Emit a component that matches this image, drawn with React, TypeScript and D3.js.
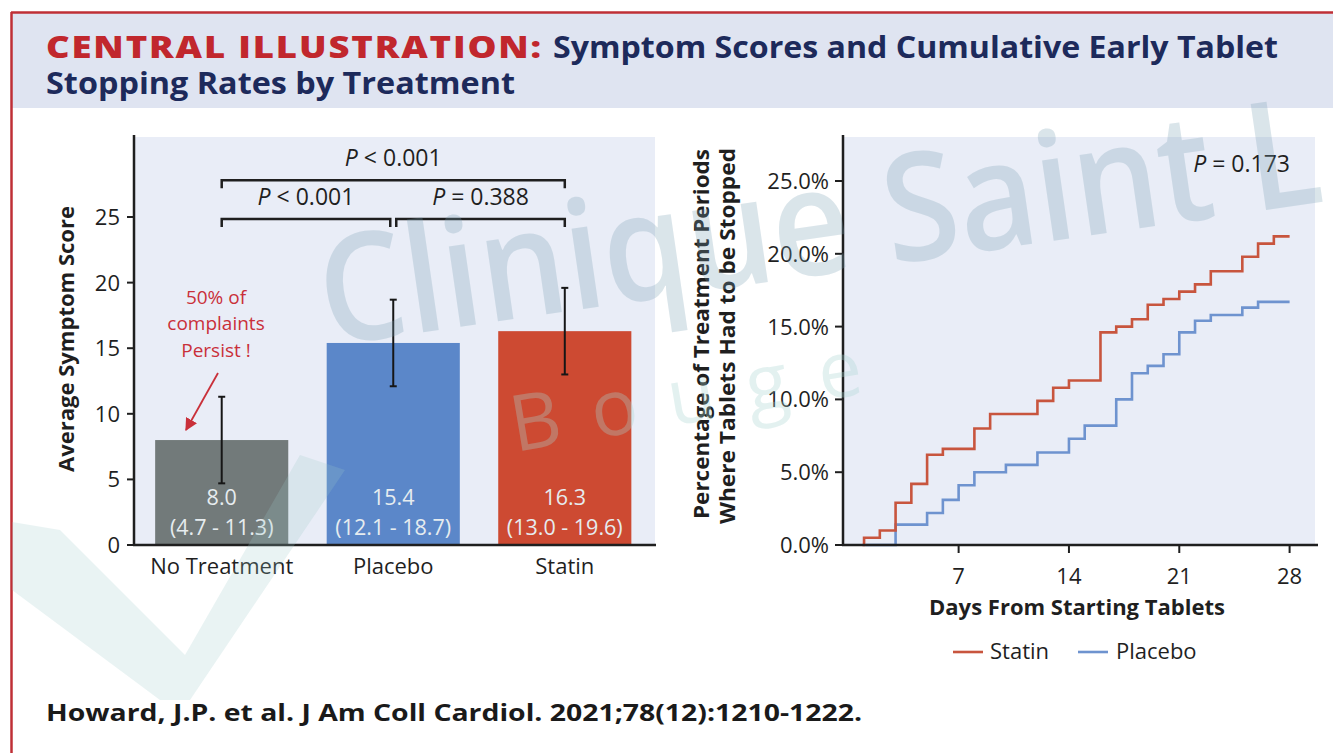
import React from "react";
import * as d3 from "d3";

// ---------- data ----------
const categories = ["No Treatment", "Placebo", "Statin"];
const means = [8.0, 15.4, 16.3];
const ciLow = [4.7, 12.1, 13.0];
const ciHigh = [11.3, 18.7, 19.6];
const barColors = ["#727a7a", "#5b87c9", "#cd4a32"];
const symTicks = [0, 5, 10, 15, 20, 25];

const comparisons = [
  { a: 0, b: 2, level: 27.8, label: "< 0.001" },
  { a: 0, b: 1, level: 24.85, label: "< 0.001" },
  { a: 1, b: 2, level: 24.85, label: "= 0.388" },
];

const statinDays = [0.9, 1, 2, 3, 4, 5, 6, 8, 9, 12, 13, 14, 16, 17, 18, 19, 20, 21, 22, 23, 25, 26, 27, 28];
const statinPct = [0, 0.5, 1.0, 2.9, 4.2, 6.2, 6.6, 8.0, 9.0, 9.9, 10.8, 11.3, 14.6, 15.0, 15.5, 16.5, 16.9, 17.4, 17.9, 18.8, 19.8, 20.7, 21.2, 21.2];
const placeboDays = [1.1, 3, 5, 6, 7, 8, 10, 12, 14, 15, 17, 18, 19, 20, 21, 22, 23, 25, 26, 28];
const placeboPct = [0, 1.4, 2.2, 3.1, 4.1, 5.0, 5.5, 6.35, 7.3, 8.2, 10.0, 11.8, 12.3, 13.1, 14.6, 15.4, 15.8, 16.3, 16.7, 16.7];
const dayTicks = [7, 14, 21, 28];
const pctTicks = [0, 5, 10, 15, 20, 25];

const FONT = "'Open Sans', 'Noto Sans', sans-serif";
const INK = "#1f1f1f";

export default function App() {
  // left chart scales
  const yS = d3.scaleLinear().domain([0, 31.1]).range([545, 137]);
  const xS = d3.scaleBand<string>().domain(categories).range([138, 648.5]).paddingInner(0.224).paddingOuter(0.1);
  const cx = (i: number) => (xS(categories[i]) as number) + xS.bandwidth() / 2;

  // right chart scales
  const xD = d3.scaleLinear().domain([0, 28]).range([848.3, 1289.6]);
  const yP = d3.scaleLinear().domain([0, 25]).range([545, 181]);
  const line = d3
    .line<[number, number]>()
    .x((d) => xD(d[0]))
    .y((d) => yP(d[1]))
    .curve(d3.curveStepAfter);
  const statinPath = line(statinDays.map((d, i) => [d, statinPct[i]]) as [number, number][]) || "";
  const placeboPath = line(placeboDays.map((d, i) => [d, placeboPct[i]]) as [number, number][]) || "";

  return (
    <svg
      width={1333}
      height={753}
      viewBox="0 0 1333 753"
      style={{ position: "absolute", left: 0, top: 0, background: "#ffffff" }}
      fontFamily={FONT}
    >
      <rect x={0} y={0} width={1333} height={753} fill="#ffffff" />
      {/* header band */}
      <rect x={11} y={12} width={1322} height={96} fill="#dfe4f1" />
      <line x1={11} y1={12.5} x2={1333} y2={12.5} stroke="#bf2f36" strokeWidth={2.5} />
      <line x1={11.5} y1={12} x2={11.5} y2={753} stroke="#bf2f36" strokeWidth={2.5} />
      <text fontSize={30} fontWeight={700} fill="#1d2a5b">
        <tspan x={46} y={58} fontWeight={800} fill="#c1272d" letterSpacing={1.5} textLength={497} lengthAdjust="spacingAndGlyphs">
          CENTRAL ILLUSTRATION:
        </tspan>
        <tspan x={553} y={58} textLength={725} lengthAdjust="spacingAndGlyphs">
          Symptom Scores and Cumulative Early Tablet
        </tspan>
        <tspan x={46} y={94} textLength={469} lengthAdjust="spacingAndGlyphs">
          Stopping Rates by Treatment
        </tspan>
      </text>

      {/* ---------- left chart ---------- */}
      <rect x={134} y={137} width={521} height={408} fill="#e9edf7" />
      {categories.map((c, i) => (
        <rect key={c} x={xS(c)} y={yS(means[i])} width={xS.bandwidth()} height={yS(0) - yS(means[i])} fill={barColors[i]} />
      ))}
      {categories.map((c, i) => (
        <g key={"eb" + c} stroke="#161616" strokeWidth={2}>
          <line x1={cx(i)} x2={cx(i)} y1={yS(ciLow[i])} y2={yS(ciHigh[i])} />
          <line x1={cx(i) - 3.5} x2={cx(i) + 3.5} y1={yS(ciLow[i])} y2={yS(ciLow[i])} />
          <line x1={cx(i) - 3.5} x2={cx(i) + 3.5} y1={yS(ciHigh[i])} y2={yS(ciHigh[i])} />
        </g>
      ))}
      {categories.map((c, i) => (
        <text key={"lab" + c} fill="#e6ecef" fontSize={21.5} textAnchor="middle">
          <tspan x={cx(i)} y={505}>{means[i].toFixed(1)}</tspan>
          <tspan x={cx(i)} y={535}>{`(${ciLow[i].toFixed(1)} - ${ciHigh[i].toFixed(1)})`}</tspan>
        </text>
      ))}
      {/* axes */}
      <line x1={134} x2={134} y1={135} y2={546} stroke={INK} strokeWidth={2.5} />
      <line x1={133} x2={656} y1={545} y2={545} stroke={INK} strokeWidth={2.5} />
      {symTicks.map((t) => (
        <g key={"yt" + t}>
          <line x1={127} x2={134} y1={yS(t)} y2={yS(t)} stroke={INK} strokeWidth={2} />
          <text x={120} y={yS(t)} dy="0.36em" textAnchor="end" fontSize={22} fill={INK}>
            {t}
          </text>
        </g>
      ))}
      {categories.map((c, i) => (
        <text key={"xl" + c} x={cx(i)} y={574} textAnchor="middle" fontSize={22} fill={INK}>
          {c}
        </text>
      ))}
      <text transform="translate(74,339) rotate(-90)" textAnchor="middle" fontSize={21} fontWeight={700} fill={INK} textLength={266} lengthAdjust="spacingAndGlyphs">
        Average Symptom Score
      </text>
      {/* brackets */}
      {comparisons.map((cmp, k) => {
        const y = yS(cmp.level);
        const x1 = cx(cmp.a) + (cmp.a === 1 && cmp.level < 26 ? 3 : 0);
        const x2 = cx(cmp.b) - (cmp.b === 1 ? 3 : 0);
        return (
          <g key={"br" + k}>
            <path d={`M${x1},${y + 8}V${y}H${x2}V${y + 8}`} fill="none" stroke={INK} strokeWidth={2.5} />
            <text x={(x1 + x2) / 2} y={y - 14} textAnchor="middle" fontSize={23} fill={INK}>
              <tspan fontStyle="italic">P</tspan>
              {" " + cmp.label}
            </text>
          </g>
        );
      })}
      {/* annotation */}
      <text fill="#c9303a" fontSize={19} textAnchor="middle">
        <tspan x={216} y={304}>50% of</tspan>
        <tspan x={216} y={330}>complaints</tspan>
        <tspan x={216} y={357}>Persist !</tspan>
      </text>
      <defs>
        <marker id="ah" viewBox="0 0 10 10" refX={9} refY={5} markerWidth={7} markerHeight={7} orient="auto">
          <path d="M0,0L10,5L0,10z" fill="#c9303a" />
        </marker>
      </defs>
      <line x1={218} y1={373} x2={186} y2={430} stroke="#c9303a" strokeWidth={1.8} markerEnd="url(#ah)" />

      {/* ---------- right chart ---------- */}
      <rect x={843} y={137} width={472} height={408} fill="#e9edf7" />
      <path d={placeboPath} fill="none" stroke="#6e93cf" strokeWidth={2.6} />
      <path d={statinPath} fill="none" stroke="#c8553e" strokeWidth={2.6} />
      <line x1={843} x2={843} y1={135} y2={546} stroke={INK} strokeWidth={2.5} />
      <line x1={842} x2={1318} y1={545} y2={545} stroke={INK} strokeWidth={2.5} />
      {pctTicks.map((t) => (
        <g key={"pt" + t}>
          <line x1={835} x2={843} y1={yP(t)} y2={yP(t)} stroke={INK} strokeWidth={2} />
          <text x={829} y={yP(t)} dy="0.36em" textAnchor="end" fontSize={22} fill={INK}>
            {t.toFixed(1) + "%"}
          </text>
        </g>
      ))}
      {dayTicks.map((t) => (
        <g key={"dt" + t}>
          <line x1={xD(t)} x2={xD(t)} y1={545} y2={553} stroke={INK} strokeWidth={2} />
          <text x={xD(t)} y={584} textAnchor="middle" fontSize={22} fill={INK}>
            {t}
          </text>
        </g>
      ))}
      <text x={1077} y={615} textAnchor="middle" fontSize={21} fontWeight={700} fill={INK} textLength={296} lengthAdjust="spacingAndGlyphs">
        Days From Starting Tablets
      </text>
      <text textAnchor="middle" fontSize={21} fontWeight={700} fill={INK} transform="rotate(-90)">
        <tspan x={-334} y={709} textLength={370} lengthAdjust="spacingAndGlyphs">
          Percentage of Treatment Periods
        </tspan>
        <tspan x={-336} y={735} textLength={376} lengthAdjust="spacingAndGlyphs">
          Where Tablets Had to be Stopped
        </tspan>
      </text>
      <text x={1290} y={172} textAnchor="end" fontSize={23} fill={INK}>
        <tspan fontStyle="italic">P</tspan> = 0.173
      </text>
      {/* legend */}
      <line x1={953} x2={983} y1={652} y2={652} stroke="#c8553e" strokeWidth={2.6} />
      <text x={990} y={659} fontSize={22} fill={INK}>Statin</text>
      <line x1={1078} x2={1108} y1={652} y2={652} stroke="#6e93cf" strokeWidth={2.6} />
      <text x={1116} y={659} fontSize={22} fill={INK}>Placebo</text>

      {/* footer */}
      <text x={46} y={721} fontSize={24} fontWeight={700} fill="#1a1a1a" textLength={816} lengthAdjust="spacingAndGlyphs">
        Howard, J.P. et al. J Am Coll Cardiol. 2021;78(12):1210-1222.
      </text>

      {/* faint watermark */}
      <g pointerEvents="none">
        <path d="M12,522 L60,530 L185,655 L300,455 L345,470 L190,700 L160,700 L12,590 Z" fill="#9ccac8" opacity={0.22} />
        <text transform="translate(327,346) rotate(-8.25)" fontSize={150} fontWeight={600} fill="#7aa0b4" opacity={0.27} textLength={1010} lengthAdjust="spacingAndGlyphs">
          Clinique Saint L
        </text>
        <text transform="translate(515,452) rotate(-9.5)" fontSize={78} fill="#a9d6d2" opacity={0.32} letterSpacing={31}>
          Bouge
        </text>
      </g>
    </svg>
  );
}
